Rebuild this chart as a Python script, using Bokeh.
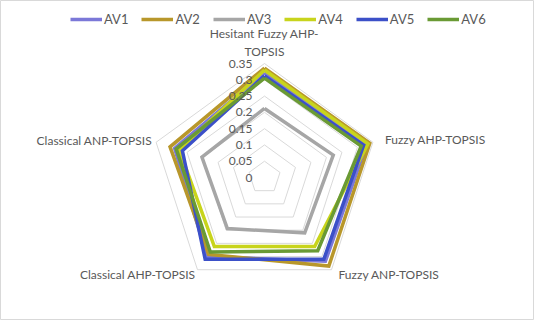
import numpy as np
from bokeh.plotting import figure
from bokeh.models import Legend, LegendItem
from bokeh.core.properties import value
from bokeh.embed import file_html
from bokeh.resources import INLINE

categories = ["Hesitant Fuzzy AHP-\nTOPSIS", "Fuzzy AHP-TOPSIS", "Fuzzy ANP-TOPSIS",
              "Classical AHP-TOPSIS", "Classical ANP-TOPSIS"]
series_names = ["AV1", "AV2", "AV3", "AV4", "AV5", "AV6"]
av1 = [0.322, 0.330, 0.318, 0.300, 0.290]
av2 = [0.336, 0.340, 0.336, 0.292, 0.305]
av3 = [0.212, 0.222, 0.210, 0.194, 0.202]
av4 = [0.330, 0.334, 0.262, 0.262, 0.275]
av5 = [0.312, 0.320, 0.310, 0.310, 0.265]
av6 = [0.305, 0.312, 0.278, 0.283, 0.285]
series_values = [av1, av2, av3, av4, av5, av6]
colors = ["#7b78d8", "#b8972b", "#a6a6a6", "#c8d41c", "#3c50c8", "#6a9a34"]
tick_values = [0, 0.05, 0.1, 0.15, 0.2, 0.25, 0.3, 0.35]
tick_labels = ["0", "0.05", "0.1", "0.15", "0.2", "0.25", "0.3", "0.35"]

W, H = 534, 320
scale = 325.7  # px per unit
cx, cy = 264, 177
p = figure(width=W, height=H, output_backend="svg", toolbar_location=None,
           x_range=(-cx / scale, (W - cx) / scale),
           y_range=(-(H - cy) / scale, cy / scale),
           min_border=0)
p.xaxis.visible = False
p.yaxis.visible = False
p.xgrid.visible = False
p.ygrid.visible = False
p.outline_line_color = "#d9d9d9"
p.outline_line_width = 1

n = len(categories)
ang = np.pi / 2 - 2 * np.pi * np.arange(n) / n

def poly(r):
    r = np.asarray(r, dtype=float)
    xs = list(r * np.cos(ang)) + [r[0] * np.cos(ang[0])]
    ys = list(r * np.sin(ang)) + [r[0] * np.sin(ang[0])]
    return xs, ys

font = value("Lato")
for t in tick_values[1:]:
    xs, ys = poly([t] * n)
    p.line(xs, ys, line_color="#d9d9d9", line_width=1)

items = []
for name, vals, c in zip(series_names, series_values, colors):
    xs, ys = poly(vals)
    r = p.line(xs, ys, line_color=c, line_width=3.5, line_join="miter")
    items.append(LegendItem(label=name, renderers=[r]))

# tick labels
p.text(x=[0] * len(tick_values), y=tick_values, text=tick_labels,
       text_align="right", text_baseline="middle", x_offset=-12,
       text_font=font, text_font_size="12px", text_color="#595959")

# category labels
lx = list(0.35 * np.cos(ang))
ly = list(0.35 * np.sin(ang))
aligns = ["center", "left", "left", "right", "right"]
baselines = ["bottom", "middle", "middle", "middle", "middle"]
xoffs = [0, 12, 7, -2, -4]
yoffs = [-5, -3, 5, 5, -2]
for i in range(n):
    p.text(x=[lx[i]], y=[ly[i]], text=[categories[i]], text_align=aligns[i],
           text_baseline=baselines[i], x_offset=xoffs[i], y_offset=yoffs[i],
           text_font=font, text_font_size="12px", text_color="#595959",
           text_line_height=1.2)

legend = Legend(items=items, orientation="horizontal", location=(70, 291),
                padding=0, margin=0, spacing=13, glyph_width=32, glyph_height=20,
                label_standoff=2, label_text_font="Lato", label_text_font_size="13px",
                label_text_color="#595959", border_line_color=None,
                background_fill_alpha=0)
p.add_layout(legend, "center")

open("out.html", "w").write(file_html(p, INLINE))
